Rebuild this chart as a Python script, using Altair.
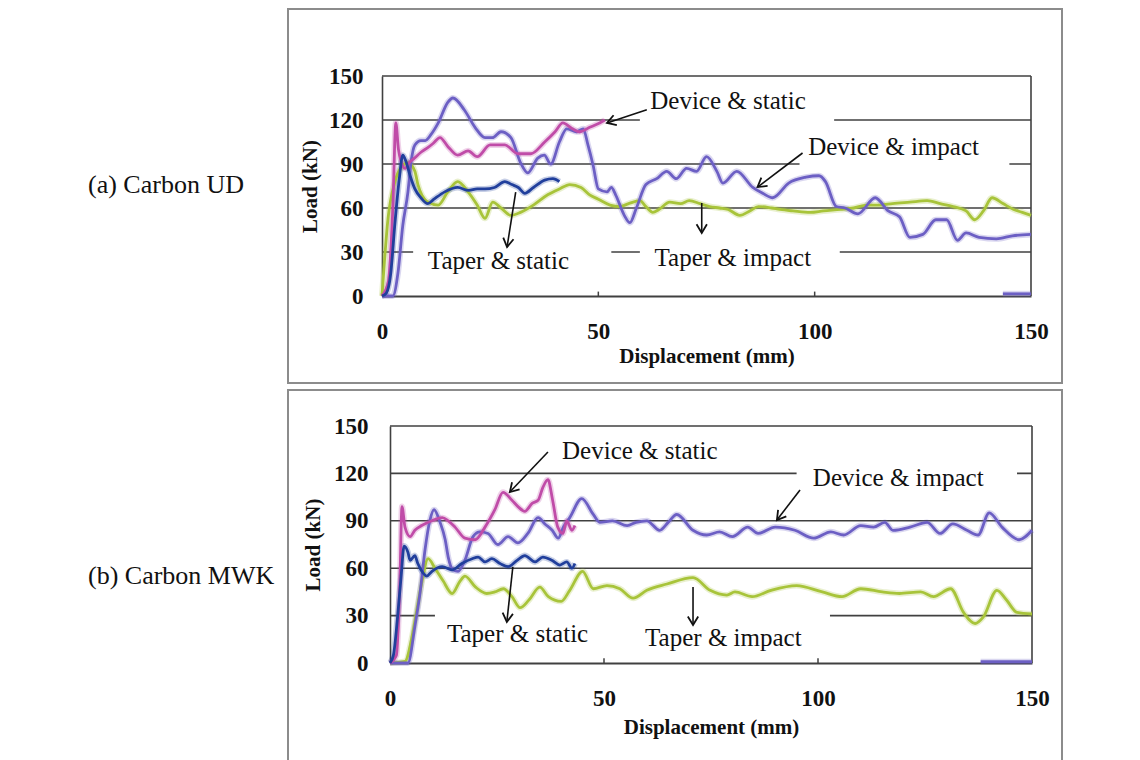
import math
import altair as alt
import pandas as pd

FONT = "Liberation Serif"

SERIES = ["Taper & impact", "Device & impact", "Device & static", "Taper & static", "Device & impact end"]
COLORS = ["#a8c43a", "#6c5fc4", "#c04ca8", "#213f9c", "#6c5fc4"]

# ---------------- (a) Carbon UD ----------------
A_DS_X = [0, 1.5, 2.5, 3.2, 3.8, 4.5, 5.3, 6.3, 7.5, 9, 10.5, 11.8, 13.4, 15.2, 17.5, 19.9, 22, 25, 28.4, 31.4,
          34.4, 37.6, 40, 41.8, 44, 45.7, 48, 50.3, 51.5]
A_DS_Y = [0, 10, 60, 118, 100, 91, 87, 91, 94, 98, 101, 104, 108, 102, 96, 99, 95, 103, 103, 97,
          97, 105, 112, 118, 114, 112, 115, 118, 120]

A_DI_X = [0, 2.5, 3.7, 4.8, 6, 6.7, 7.6, 9, 10, 11.3, 13, 15.2, 16.4, 19, 21.5, 23.8, 25.5, 27.5, 29.8, 32,
          33.7, 36, 37.5, 39, 41, 42.7, 45, 46.5, 47.6, 48.8, 50, 52, 53, 54, 56, 57.3, 58.8, 61, 63.5, 65.8,
          68, 70.4, 72.7, 75, 77.4, 78.8, 82, 85.7, 88, 90.3, 94, 98, 101, 102.5, 105, 107, 110, 114, 117, 119.6,
          122, 125, 128, 130.5, 133, 135, 138, 142, 145.7, 150]
A_DI_Y = [0, 0, 16, 48, 71, 91, 103, 106, 106, 110, 118, 132, 135, 127, 115, 108, 108, 112, 108, 91,
          84, 94, 96, 90, 105, 114, 112, 114, 103, 89, 73, 71, 74, 69, 55, 50, 60, 76, 80, 85,
          80, 87, 85, 95, 85, 77, 85, 74, 70, 67, 77, 81, 82, 78, 61, 60, 56, 67, 58, 54,
          40, 42, 52, 52, 38, 43, 40, 39, 41, 42]
A_DI_END_X = [143.5, 150]
A_DI_END_Y = [1.5, 1.5]

A_TS_X = [0, 1, 2, 3, 4, 4.8, 5.5, 6.5, 7.6, 9, 10.6, 12, 14.5, 17.5, 20, 22, 23.8, 26, 28.4, 30,
          31.5, 33, 35, 37.6, 39.5, 41]
A_TS_Y = [0, 2, 15, 50, 80, 96, 92, 82, 73, 67, 63, 66, 71, 74, 72, 73, 73, 74, 78, 76,
          74, 70, 74, 79, 80, 78]

A_TI_X = [0, 1.4, 3, 4.5, 6, 7.6, 8.3, 10.6, 13, 15.2, 17.5, 19.9, 22, 23.8, 25.6, 27.5, 29.8, 32, 35, 38.3,
          41, 43.4, 46, 48, 50, 52.7, 55, 57, 59.6, 61, 62.6, 64, 66.5, 69, 71, 73.5, 75.7, 78, 80, 82.7,
          85, 87, 90, 92, 95, 99, 102, 106, 109, 112, 115, 118, 122, 126, 129, 132, 135, 137, 139, 141,
          143.5, 146, 148, 150]
A_TI_Y = [0, 53, 78, 88, 91, 85, 76, 64, 62, 71, 78, 71, 62, 53, 64, 60, 55, 57, 62, 69,
          73, 76, 74, 69, 66, 62, 61, 63, 65, 61, 57, 59, 64, 63, 65, 63, 61, 60, 59, 55,
          58, 61, 60, 59, 58, 57, 58, 59, 60, 62, 62, 63, 64, 65, 63, 61, 58, 52, 58, 67,
          63, 59, 57, 55]

A_TEXT = ["Device & static", "Device & impact", "Taper & static", "Taper & impact"]
A_TEXT_X = [62, 98.5, 10.6, 63]
A_TEXT_Y = [133, 101.5, 24, 26]
A_BOX_X1 = [59.6, 96.5, 7.2, 59.6]
A_BOX_X2 = [104.5, 145, 53, 105.8]
A_BOX_Y1 = [114, 88, 15, 15]
A_BOX_Y2 = [146, 114, 36, 36]
A_ARR_X1 = [61.2, 97.2, 30.9, 73.9]
A_ARR_Y1 = [127, 97.5, 70.9, 63.4]
A_ARR_X2 = [52, 86.8, 28.9, 73.9]
A_ARR_Y2 = [118, 74.3, 33.4, 43]

# ---------------- (b) Carbon MWK ----------------
B_DS_X = [0, 1.5, 2.3, 2.8, 3.5, 4.7, 5.8, 7.4, 9.8, 12.2, 13.6, 15.2, 17.5, 19.9, 22.2, 24.5, 26.4, 28.5, 29.9,
          31.5, 33.2, 34.6, 35.7, 36.9, 38, 39.2, 40.4, 41.3, 42.5, 43.2]
B_DS_Y = [0, 5, 50, 99, 86, 80, 84, 87, 90, 92, 90, 86, 79, 78, 86, 97, 108, 103, 99,
          96, 101, 103, 111, 116, 103, 86, 82, 90, 84, 87]

B_DI_X = [0, 4.2, 5.8, 7, 8.2, 9.3, 10.3, 11.7, 12.9, 13.6, 14.7, 15.9, 17.5, 19.4, 21, 22.9, 25.2, 27.6, 29.9,
          32.2, 34.6, 36.2, 37.9, 39.3, 40.5, 42, 44.8, 47.5, 49, 52, 55.4, 57.5, 60, 63, 65, 67, 70.8, 74, 77,
          80, 83.6, 86, 90, 94.6, 99, 103, 106, 110, 113, 115.6, 117.5, 121.5, 125.5, 128.5, 131.5, 134.8,
          137.4, 140, 143, 147, 150]
B_DI_Y = [0, 0, 23, 44, 72, 90, 97, 89, 78, 67, 59, 58, 65, 80, 83, 82, 75, 80, 76,
          82, 92, 88, 84, 79, 86, 92, 104, 94, 89, 90, 87, 89, 90, 84, 89, 94, 84, 81, 83,
          80, 86, 82, 86, 84, 79, 83, 81, 87, 86, 89, 84, 86, 89, 82, 88, 84,
          81, 95, 86, 78, 84]
B_DI_END_X = [138, 150]
B_DI_END_Y = [0.8, 0.8]

B_TS_X = [0, 0.8, 1.8, 2.6, 3.3, 4.2, 4.7, 5.8, 6.5, 7.7, 8.6, 9.8, 12.2, 14.5, 16.8, 19.2, 20.6, 22.2, 23.8,
          25.7, 27.6, 29.7, 31.5, 33.9, 35.7, 37.8, 39.7, 41.3, 42.5, 43.2]
B_TS_Y = [0, 5, 30, 55, 74, 70, 65, 68, 63, 57, 55, 58, 61, 59, 63, 66, 67, 64, 66,
          63, 61, 65, 68, 64, 67, 65, 62, 64, 60, 63]

B_TI_X = [0, 3.5, 5.1, 6.3, 7.5, 8.9, 10.5, 12.4, 14.5, 16.4, 17.5, 20, 22.6, 24.5, 26.5, 28.5, 30.4, 32.5, 35,
          37, 40, 42, 45, 47.5, 50.7, 53.7, 56.8, 60, 64.7, 70.8, 74.8, 78.7, 80.6, 84.6, 89, 95, 101, 105.6,
          110, 115, 119, 124, 127, 131, 134, 136.7, 138.6, 141.8, 144, 146.5, 150]
B_TI_Y = [0, 1, 16, 34, 52, 66, 60, 52, 44, 52, 55, 48, 44, 45, 47, 42, 35, 40, 48,
          42, 39, 46, 58, 47, 49, 47, 41, 46, 50, 54, 46, 43, 45, 42, 46, 49, 45, 42,
          47, 45, 44, 45, 42, 47, 32, 25, 29, 46, 40, 32, 31]

B_TEXT = ["Device & static", "Device & impact", "Taper & static", "Taper & impact"]
B_TEXT_X = [40.2, 98.8, 13.3, 59.6]
B_TEXT_Y = [134.2, 117, 18.4, 15.8]
B_BOX_X1 = [95, 10.5, 50]
B_BOX_X2 = [146.5, 50, 102.8]
B_BOX_Y1 = [107, 6, 6]
B_BOX_Y2 = [128, 33, 33]
B_ARR_X1 = [36.9, 95.8, 28.7, 70.8]
B_ARR_Y1 = [133.5, 109.5, 60.8, 48.1]
B_ARR_X2 = [28, 90.4, 27.3, 70.8]
B_ARR_Y2 = [108.2, 90.5, 26, 24]

GRID_Y = [30, 60, 90, 120, 150]
Y_TICKS = [0, 30, 60, 90, 120, 150]
X_TICKS = [0, 50, 100, 150]
INNER_TICKS_X = [50, 100]
INNER_TICKS_Y2 = [3, 3]

CHEVRON = "M-1,-0.6L0,0L-1,0.6"
LINE_DARK = "#404040"


def curves_df(curves):
    rows = []
    for name, xs, ys in curves:
        assert len(xs) == len(ys), name
        for i, (x, y) in enumerate(zip(xs, ys)):
            rows.append({"series": name, "x": x, "y": y, "order": i})
    return pd.DataFrame(rows)


def make_panel(curves, texts, tx, ty, bx1, bx2, by1, by2, ax1, ay1, ax2, ay2,
               side_label, W, H, shift, frame, side_xy, ypad, ytitlepad, xpad, xtitlepad):
    # plot area spans [shift, shift + W] inside a view of width shift + W
    xs = alt.Scale(domain=[0, 150], nice=False, zero=False, range=[shift, shift + W])
    ys = alt.Scale(domain=[0, 150], nice=False, zero=False)
    x_axis = alt.Axis(values=X_TICKS, title="Displacement (mm)", grid=False, ticks=False,
                      tickSize=0, labelPadding=xpad, titlePadding=xtitlepad, labelFlush=False,
                      domainColor=LINE_DARK, domainWidth=2)
    y_axis = alt.Axis(values=Y_TICKS, title="Load (kN)", grid=False, ticks=False, tickSize=0,
                      labelPadding=ypad, titlePadding=ytitlepad, labelFlush=False, offset=-shift,
                      domainColor=LINE_DARK, domainWidth=1.6)

    def X(f):
        return alt.X(f, type="quantitative", scale=xs, axis=x_axis)

    def Y(f):
        return alt.Y(f, type="quantitative", scale=ys, axis=y_axis)

    dummy = pd.DataFrame({"k": [0]})
    frame_l = alt.Chart(dummy).mark_rect(fillOpacity=0, stroke="#8c8c8c", strokeWidth=2).encode(
        x=alt.value(frame[0]), x2=alt.value(frame[1]), y=alt.value(frame[2]), y2=alt.value(frame[3]))

    side = alt.Chart(dummy).mark_text(text=side_label, align="left", baseline="middle", font=FONT,
                                      fontSize=26, color="#111111").encode(
        x=alt.value(side_xy[0]), y=alt.value(side_xy[1]))

    grid = pd.DataFrame({"x": [0] * len(GRID_Y), "x2": [150] * len(GRID_Y), "y": GRID_Y})
    grid_l = alt.Chart(grid).mark_rule(color=LINE_DARK, strokeWidth=1.6).encode(
        x=X("x"), x2="x2:Q", y=Y("y"))
    right = pd.DataFrame({"x": [150], "y": [0], "y2": [150]})
    right_l = alt.Chart(right).mark_rule(color=LINE_DARK, strokeWidth=1.6).encode(
        x=X("x"), y=Y("y"), y2="y2:Q")

    boxes = pd.DataFrame({"x": bx1, "x2": bx2, "y": by1, "y2": by2})
    box_l = alt.Chart(boxes).mark_rect(fill="white").encode(
        x=X("x"), x2="x2:Q", y=Y("y"), y2="y2:Q")

    ticks = pd.DataFrame({"x": INNER_TICKS_X, "y": [0] * len(INNER_TICKS_X), "y2": INNER_TICKS_Y2})
    tick_l = alt.Chart(ticks).mark_rule(color=LINE_DARK, strokeWidth=1.5).encode(
        x=X("x"), y=Y("y"), y2="y2:Q")

    df = curves_df(curves)
    color = alt.Color("series:N", scale=alt.Scale(domain=SERIES, range=COLORS), legend=None)
    halo = alt.Chart(df).mark_line(strokeWidth=6, opacity=0.25, strokeJoin="round",
                                   interpolate="monotone").encode(
        x=X("x"), y=Y("y"), color=color, order="order:Q")
    core = alt.Chart(df).mark_line(strokeWidth=2.8, strokeJoin="round", interpolate="monotone").encode(
        x=X("x"), y=Y("y"), color=color, order="order:Q")

    angs = []
    for x1, y1, x2, y2 in zip(ax1, ay1, ax2, ay2):
        dx = (x2 - x1) * W / 150.0
        dy = -(y2 - y1) * H / 150.0
        angs.append((math.degrees(math.atan2(dy, dx)) + 360) % 360)
    arrows = pd.DataFrame({"x": ax1, "y": ay1, "x2": ax2, "y2": ay2, "ang": angs})
    shaft = alt.Chart(arrows).mark_rule(color="#111111", strokeWidth=1.6).encode(
        x=X("x"), y=Y("y"), x2="x2:Q", y2="y2:Q")
    heads = alt.Chart(arrows).mark_point(shape=CHEVRON, filled=False, size=300, strokeWidth=1.8,
                                         color="#111111", opacity=1).encode(
        x=X("x2"), y=Y("y2"), angle=alt.Angle("ang:Q", scale=None))

    tdf = pd.DataFrame({"x": tx, "y": ty, "t": texts})
    text_l = alt.Chart(tdf).mark_text(align="left", baseline="middle", font=FONT, fontSize=25,
                                      color="#111111").encode(x=X("x"), y=Y("y"), text="t:N")

    return alt.layer(frame_l, grid_l, right_l, box_l, tick_l, halo, core, shaft, heads, text_l,
                     side).properties(width=W + shift, height=H)


WA, HA = 649, 220
WB, HB = 642, 237

panel_a = make_panel(
    [("Taper & impact", A_TI_X, A_TI_Y), ("Device & impact", A_DI_X, A_DI_Y),
     ("Device & impact end", A_DI_END_X, A_DI_END_Y),
     ("Device & static", A_DS_X, A_DS_Y), ("Taper & static", A_TS_X, A_TS_Y)],
    A_TEXT, A_TEXT_X, A_TEXT_Y, A_BOX_X1, A_BOX_X2, A_BOX_Y1, A_BOX_Y2,
    A_ARR_X1, A_ARR_Y1, A_ARR_X2, A_ARR_Y2,
    "(a) Carbon UD", WA, HA, 0, (-94, 680, -67, 307), (-294, 109),
    ypad=19, ytitlepad=8, xpad=24, xtitlepad=2)

panel_b = make_panel(
    [("Taper & impact", B_TI_X, B_TI_Y), ("Device & impact", B_DI_X, B_DI_Y),
     ("Device & impact end", B_DI_END_X, B_DI_END_Y),
     ("Device & static", B_DS_X, B_DS_Y), ("Taper & static", B_TS_X, B_TS_Y)],
    B_TEXT, B_TEXT_X, B_TEXT_Y, B_BOX_X1, B_BOX_X2, B_BOX_Y1, B_BOX_Y2,
    B_ARR_X1, B_ARR_Y1, B_ARR_X2, B_ARR_Y2,
    "(b) Carbon MWK", WB, HB, 8, (-94, 680, -36, 336), (-294, 150),
    ypad=22, ytitlepad=10, xpad=24, xtitlepad=6)

chart = alt.vconcat(panel_a, panel_b, spacing=5).properties(
    padding={"left": 80, "top": 0, "right": 5, "bottom": 5}
).configure_view(
    stroke=None
).configure_axis(
    labelFont=FONT, labelFontSize=23, labelFontWeight="bold", labelColor="#111111",
    titleFont=FONT, titleFontSize=21, titleFontWeight="bold", titleColor="#111111"
)

chart.save("out.html", embed_options={"renderer": "svg", "actions": False})
